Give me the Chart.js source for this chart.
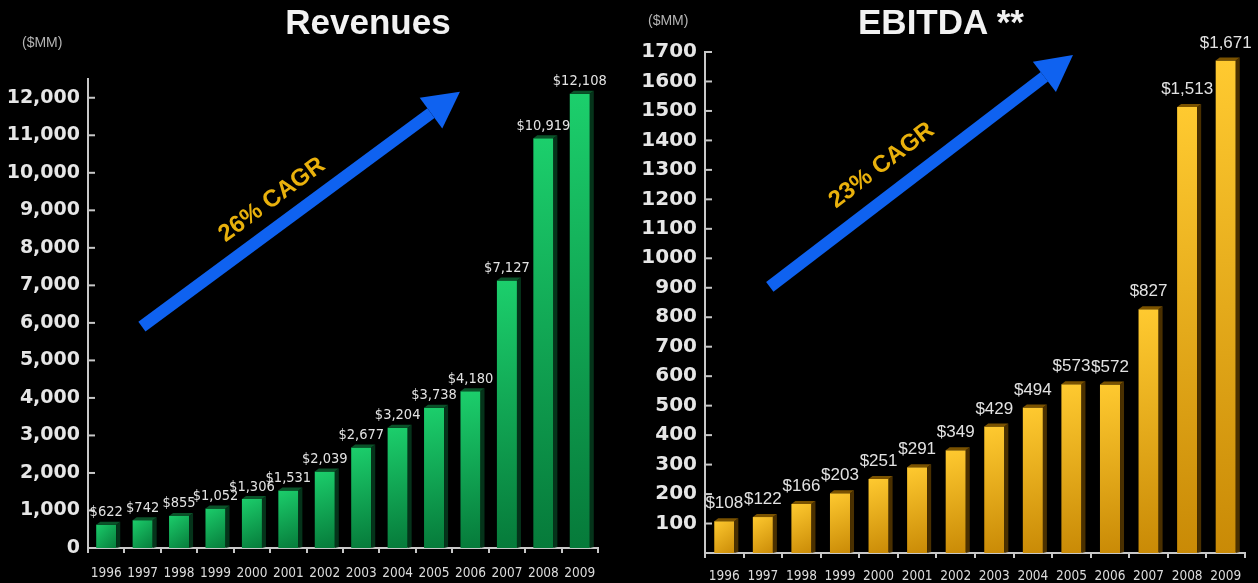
<!DOCTYPE html>
<html>
<head>
<meta charset="utf-8">
<script src="https://cdn.jsdelivr.net/npm/chart.js@4.4.1/dist/chart.umd.min.js"></script>
<style>
  body { margin: 0; background: #000; width: 1258px; height: 583px; overflow: hidden; position: relative; font-family: "Liberation Sans", Arial, sans-serif; }
  canvas { position: absolute; top: 0; }
  #revChart { left: 0; }
  #ebitdaChart { left: 620px; }
  .title { position: absolute; color: #f2f2f2; font-weight: bold; font-size: 35px; top: 2px; white-space: nowrap; transform: translateX(-50%); }
  .unit { position: absolute; color: #b4b4b4; font-size: 14px; }
</style>
</head>
<body>
<canvas id="revChart" width="620" height="583"></canvas>
<canvas id="ebitdaChart" width="638" height="583"></canvas>
<div class="title" style="left:368px">Revenues</div>
<div class="title" style="left:941px">EBITDA **</div>
<div class="unit" style="left:22px; top:34px">($MM)</div>
<div class="unit" style="left:648px; top:12px">($MM)</div>
<script>
const years = ["1996", "1997", "1998", "1999", "2000", "2001", "2002", "2003", "2004", "2005", "2006", "2007", "2008", "2009"];
const revenues = [622, 742, 855, 1052, 1306, 1531, 2039, 2677, 3204, 3738, 4180, 7127, 10919, 12108];
const ebitda = [108, 122, 166, 203, 251, 291, 349, 429, 494, 573, 572, 827, 1513, 1671];
const revTicks = [0, 1000, 2000, 3000, 4000, 5000, 6000, 7000, 8000, 9000, 10000, 11000, 12000];
const ebitdaTicks = [100, 200, 300, 400, 500, 600, 700, 800, 900, 1000, 1100, 1200, 1300, 1400, 1500, 1600, 1700];

// arrows in data space: [category index, value]
const revArrow = { from: [0.98, 5900], to: [9.71, 12160], label: "26% CAGR", labelAt: [4.55, 9280] };
const ebitdaArrow = { from: [1.18, 903], to: [9.04, 1690], label: "23% CAGR", labelAt: [4.08, 1315] };

const axisColor = "#c8c8c8";
const narrow = "'DejaVu Sans Condensed', 'Liberation Sans Narrow', sans-serif";

function barFill(light, dark) {
  return (ctx) => {
    const chart = ctx.chart;
    if (!chart.chartArea || ctx.raw == null) return light;
    const x = chart.scales.x.getPixelForValue(ctx.dataIndex);
    const top = chart.scales.y.getPixelForValue(ctx.raw);
    const bottom = chart.scales.y.getPixelForValue(0);
    const g = chart.ctx.createLinearGradient(x - 12, top, x + 12, bottom);
    g.addColorStop(0, light);
    g.addColorStop(1, dark);
    return g;
  };
}

const decor = {
  id: "decor",
  afterDatasetsDraw(chart, args, opts) {
    const c = chart.ctx;
    const xs = chart.scales.x, ys = chart.scales.y;
    const area = chart.chartArea;

    // 3d side and top of bars
    const meta = chart.getDatasetMeta(0);
    meta.data.forEach((bar) => {
      const r = bar.x + bar.width / 2, l = bar.x - bar.width / 2;
      c.fillStyle = opts.side;
      c.beginPath();
      c.moveTo(r, bar.y); c.lineTo(r + 4, bar.y - 3); c.lineTo(r + 4, bar.base - 1); c.lineTo(r, bar.base);
      c.closePath(); c.fill();
      c.fillStyle = opts.top;
      c.beginPath();
      c.moveTo(l, bar.y); c.lineTo(l + 4, bar.y - 3); c.lineTo(r + 4, bar.y - 3); c.lineTo(r, bar.y);
      c.closePath(); c.fill();
    });

    // small tick marks to the right of the y axis
    c.strokeStyle = axisColor;
    c.lineWidth = 2;
    ys.ticks.forEach((t) => {
      if (t.value === 0) return;
      const y = ys.getPixelForValue(t.value);
      c.beginPath(); c.moveTo(area.left, y); c.lineTo(area.left + 7, y); c.stroke();
    });

    // value labels
    c.fillStyle = "#e2e2e2";
    c.font = opts.labelFont;
    c.textAlign = "center";
    c.textBaseline = "bottom";
    meta.data.forEach((bar, i) => {
      c.fillText("$" + opts.values[i].toLocaleString("en-US"), bar.x, bar.y - opts.gap);
    });

    // growth arrow
    const a = opts.arrow;
    const x1 = xs.getPixelForValue(a.from[0]), y1 = ys.getPixelForValue(a.from[1]);
    const x2 = xs.getPixelForValue(a.to[0]), y2 = ys.getPixelForValue(a.to[1]);
    const len = Math.hypot(x2 - x1, y2 - y1);
    const ux = (x2 - x1) / len, uy = (y2 - y1) / len;
    const bx = x2 - ux * 36, by = y2 - uy * 36;
    c.strokeStyle = "#0f62f0";
    c.fillStyle = "#0f62f0";
    c.lineWidth = 12;
    c.lineCap = "butt";
    c.beginPath(); c.moveTo(x1, y1); c.lineTo(bx, by); c.stroke();
    c.beginPath();
    c.moveTo(x2, y2);
    c.lineTo(bx - uy * 19, by + ux * 19);
    c.lineTo(bx + uy * 19, by - ux * 19);
    c.closePath(); c.fill();

    const tx = xs.getPixelForValue(a.labelAt[0]), ty = ys.getPixelForValue(a.labelAt[1]);
    c.save();
    c.translate(tx, ty);
    c.rotate(Math.atan2(y2 - y1, x2 - x1));
    c.fillStyle = "#e9b10c";
    c.font = "bold 24px 'Liberation Sans', Arial, sans-serif";
    c.textAlign = "center";
    c.textBaseline = "middle";
    c.fillText(a.label, 0, 0);
    c.restore();
  }
};

function makeChart(id, values, cfg) {
  return new Chart(document.getElementById(id), {
    type: "bar",
    data: {
      labels: years,
      datasets: [{
        data: values,
        backgroundColor: barFill(cfg.light, cfg.dark),
        borderWidth: 0,
        categoryPercentage: 1,
        barPercentage: cfg.barPct,
      }],
    },
    options: {
      responsive: false,
      animation: false,
      layout: { padding: cfg.padding },
      plugins: {
        legend: { display: false },
        tooltip: { enabled: false },
        decor: {
          values: values, arrow: cfg.arrow, side: cfg.side, top: cfg.top,
          gap: cfg.gap, labelFont: cfg.labelFont,
        },
      },
      scales: {
        x: {
          grid: { display: true, drawOnChartArea: false, offset: true, tickLength: 5, color: axisColor, lineWidth: 2 },
          border: { color: axisColor, width: 2 },
          ticks: { color: "#dcdcdc", font: { family: narrow, size: 13.5 }, padding: cfg.xPad, maxRotation: 0, autoSkip: false },
          afterFit: (s) => { s.height = cfg.xHeight; },
        },
        y: {
          min: 0,
          max: cfg.max,
          grid: { display: false, drawTicks: false },
          border: { color: axisColor, width: 2 },
          afterBuildTicks: (s) => { s.ticks = cfg.ticks.map((v) => ({ value: v })); },
          ticks: {
            autoSkip: false,
            padding: 8,
            color: "#e6e6e6",
            font: { family: "'DejaVu Sans', sans-serif", size: cfg.tickSize, weight: "bold" },
            callback: (v) => cfg.tickLabel(v),
          },
          afterFit: (s) => { s.width = cfg.yWidth; },
        },
      },
    },
    plugins: [decor],
  });
}

makeChart("revChart", revenues, {
  light: "#1ccf6c", dark: "#067a3a", side: "#05331a", top: "#0a5229",
  barPct: 0.55, max: 12500, ticks: revTicks, tickSize: 19,
  tickLabel: (v) => v.toLocaleString("en-US"),
  padding: { top: 79, right: 22, left: 0, bottom: 0 },
  yWidth: 88, xHeight: 35, xPad: 12,
  gap: 5, labelFont: "14.5px " + narrow,
  arrow: revArrow,
});

makeChart("ebitdaChart", ebitda, {
  light: "#ffca30", dark: "#c98a06", side: "#4a3000", top: "#7a5200",
  barPct: 0.52, max: 1700, ticks: ebitdaTicks, tickSize: 20,
  tickLabel: (v) => String(v),
  padding: { top: 52, right: 13, left: 0, bottom: 0 },
  yWidth: 85, xHeight: 30, xPad: 10,
  gap: 9, labelFont: "17px 'Liberation Sans', Arial, sans-serif",
  arrow: ebitdaArrow,
});
</script>
</body>
</html>
